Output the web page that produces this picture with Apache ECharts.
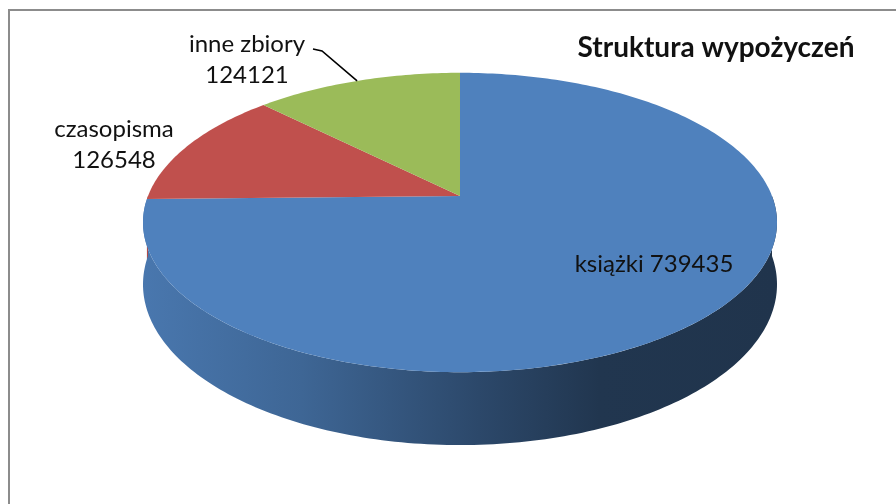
<!DOCTYPE html>
<html>
<head>
<meta charset="utf-8">
<script src="https://cdn.jsdelivr.net/npm/echarts@6/dist/echarts.min.js"></script>
<style>
  html, body { margin: 0; background: #fff; }
  #main { width: 896px; height: 504px; }
</style>
</head>
<body>
<div id="main"></div>
<script>
// dane
const categories = ['książki', 'czasopisma', 'inne zbiory'];
const values = [739435, 126548, 124121];
const colors = ['#4f81bd', '#c0504d', '#9bbb59'];
const chartTitle = 'Struktura wypożyczeń';

// geometria "3D" (perspektywa)
const CX = 460, CY = 196, RX = 312, RY = 145, PERSP = 0.177, DEPTH = 60;
const FONT = 'Lato, "Open Sans", sans-serif';
// pozycje etykiet (środek tekstu) i czy etykieta jest wewnątrz
const labelLayout = [
  { x: 654, y: 264, inside: true },
  { x: 114, y: 145, inside: false },
  { x: 247, y: 60, inside: false, leader: true }
];

function project(u, v, h) {
  const d = 1 - PERSP * v;
  return [CX + RX * u / d, CY + (RY * v + h) / d];
}
function rim(t, h) {
  return project(Math.sin(t), -Math.cos(t), h);
}
// przyciemnienie koloru (mnożnik RGB)
function shade(hex, f) {
  const n = parseInt(hex.slice(1), 16);
  const r = Math.round(((n >> 16) & 255) * f);
  const g = Math.round(((n >> 8) & 255) * f);
  const b = Math.round((n & 255) * f);
  return 'rgb(' + r + ',' + g + ',' + b + ')';
}

const total = values.reduce((s, v) => s + v, 0);
const xMin = CX - RX / Math.sqrt(1 - PERSP * PERSP);
const xMax = CX + RX / Math.sqrt(1 - PERSP * PERSP);

function renderSlice(params, api) {
  const i = params.dataIndex;
  let start = 0;
  for (let j = 0; j < i; j++) start += values[j];
  const t1 = start / total * Math.PI * 2;
  const t2 = (start + api.value(0)) / total * Math.PI * 2;
  const color = colors[i];
  const deg = Math.PI / 180;
  const children = [];

  // górna powierzchnia
  const top = [project(0, 0, 0)];
  const steps = Math.max(2, Math.ceil((t2 - t1) / deg));
  for (let s = 0; s <= steps; s++) top.push(rim(t1 + (t2 - t1) * s / steps, 0));
  children.push({ type: 'polygon', z2: 10, shape: { points: top }, style: { fill: color } });

  // ścianka boczna (tylko przód)
  const w1 = Math.max(t1, Math.PI / 2), w2 = Math.min(t2, Math.PI * 1.5);
  if (w2 > w1) {
    const n = Math.ceil((w2 - w1) / deg);
    const upper = [], lower = [];
    for (let s = 0; s <= n; s++) {
      const t = w1 + (w2 - w1) * s / n;
      upper.push(rim(t, 0));
      lower.push(rim(t, DEPTH));
    }
    children.push({
      type: 'polygon', z2: 1,
      shape: { points: upper.concat(lower.reverse()) },
      style: {
        fill: {
          type: 'linear', x: xMin, y: 0, x2: xMax, y2: 0, global: true,
          colorStops: [
            { offset: 0, color: shade(color, 0.92) },
            { offset: 0.25, color: shade(color, 0.79) },
            { offset: 0.53, color: shade(color, 0.56) },
            { offset: 0.72, color: shade(color, 0.42) },
            { offset: 1, color: shade(color, 0.40) }
          ]
        }
      }
    });
  }

  // etykieta
  const lab = labelLayout[i];
  const text = lab.inside
    ? categories[i] + ' ' + api.value(0)
    : categories[i] + '\n' + api.value(0);
  children.push({
    type: 'text', z2: 20, x: lab.x, y: lab.y,
    style: {
      text: text, fill: '#111', fontFamily: FONT, fontSize: 24, lineHeight: 31,
      align: 'center', verticalAlign: 'middle'
    }
  });
  if (lab.leader) {
    const mid = (t1 + t2) / 2;
    children.push({
      type: 'polyline', z2: 20,
      shape: { points: [[lab.x + 66, lab.y - 11], [lab.x + 75, lab.y - 9], rim(mid, 0)] },
      style: { stroke: '#000', lineWidth: 1.6, fill: null }
    });
  }
  return { type: 'group', children: children };
}

const myChart = echarts.init(document.getElementById('main'));
myChart.setOption({
  backgroundColor: '#fff',
  animation: false,
  graphic: [
    {
      type: 'rect', z: 0,
      shape: { x: 9, y: 10, width: 1000, height: 600 },
      style: { fill: 'none', stroke: '#8c8c8c', lineWidth: 2 }
    },
    {
      type: 'text', z: 10, x: 716, y: 48,
      style: {
        text: chartTitle, fill: '#111', fontFamily: FONT, fontSize: 28, fontWeight: 'bold',
        align: 'center', verticalAlign: 'middle'
      }
    }
  ],
  series: [
    {
      type: 'custom',
      coordinateSystem: 'none',
      renderItem: renderSlice,
      data: values.map((v, i) => ({ name: categories[i], value: v }))
    }
  ]
});
</script>
</body>
</html>
